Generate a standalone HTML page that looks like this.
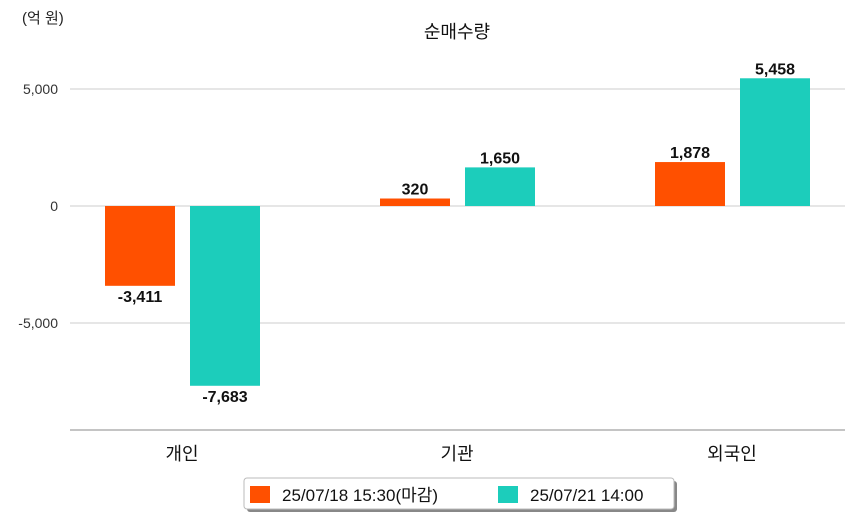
<!DOCTYPE html>
<html><head><meta charset="utf-8"><style>
body{margin:0;background:#fff;font-family:"Liberation Sans","Noto Sans CJK KR",sans-serif;}
</style></head><body>
<svg id="c" width="854" height="520" xmlns="http://www.w3.org/2000/svg" font-family="Liberation Sans, Noto Sans CJK KR, sans-serif">
<text x="22" y="23" font-size="15" fill="#222">(억 원)</text>
<text x="457" y="38" font-size="18" fill="#111" text-anchor="middle">순매수량</text>
<g id="grid"></g><g id="bars"></g>
<line x1="70" y1="430" x2="845" y2="430" stroke="#888"/>
<g>
<rect x="247" y="481" width="430" height="31" fill="#888" rx="3"/>
<rect x="244" y="478" width="430" height="31" fill="#fff" stroke="#bbb" rx="3"/>
<rect x="250" y="486" width="20" height="17" fill="#ff5000"/>
<text x="282" y="501" font-size="17" fill="#111">25/07/18 15:30(마감)</text>
<rect x="498" y="486" width="20" height="17" fill="#1ccdbb"/>
<text x="530" y="501" font-size="17" fill="#111">25/07/21 14:00</text>
</g>
</svg>
<script>
const categories=["개인","기관","외국인"];
const series1=[-3411,320,1878];
const series2=[-7683,1650,5458];
const yTicks=[5000,0,-5000];
const yTickLabels=["5,000","0","-5,000"];
const NS="http://www.w3.org/2000/svg";
function y(v){return 206-v*117/5000;}
function cx(i){return 182+i*275;}
function mk(t,a,p){const e=document.createElementNS(NS,t);for(const k in a)e.setAttribute(k,a[k]);p.appendChild(e);return e;}
const g=document.getElementById('grid'),b=document.getElementById('bars');
yTicks.forEach((t,i)=>{
 const l=mk('line',{x1:70,x2:845,y1:y(t),y2:y(t),stroke:'#ccc'},g);
 
 
 const tx=mk('text',{x:58,y:y(t)+5,'font-size':14,fill:'#333','text-anchor':'end'},g);tx.textContent=yTickLabels[i];
 
 
});
const fmt=v=>v.toLocaleString('en-US');
categories.forEach((c,i)=>{
 [[series1,'#ff5000',-77],[series2,'#1ccdbb',8]].forEach(([s,col,off],k)=>{
  const v=s[i],x=cx(i)+off,y0=y(0),y1=y(v);
  const r=mk('rect',{x:x,y:Math.min(y0,y1),width:70,height:Math.max(1,Math.abs(y1-y0)),fill:col},b);
  
  
  const t=mk('text',{x:x+35,y:v>=0?y1-4:y1+16,'font-size':16,'font-weight':'bold',fill:'#111','text-anchor':'middle'},b);
  t.textContent=fmt(v);
  
  
 });
 const t=mk('text',{x:cx(i),y:460,'font-size':18,fill:'#111','text-anchor':'middle'},b);t.textContent=c;
 
 
});
</script>
</body></html>
